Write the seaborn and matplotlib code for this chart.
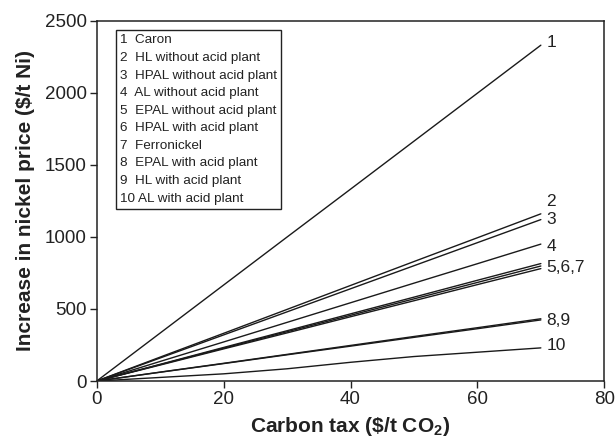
import matplotlib
matplotlib.use("Agg")
import matplotlib.pyplot as plt
import numpy as np
import pandas as pd
import seaborn as sns

# Carbon tax levels ($/t CO2)
carbon_tax = [0, 10, 20, 30, 40, 50, 60, 70]

# Increase in nickel price ($/t Ni) for each process route
caron = [0, 333, 666, 999, 1331, 1664, 1997, 2330]
hl_no_acid = [0, 166, 331, 497, 663, 829, 994, 1160]
hpal_no_acid = [0, 160, 320, 480, 640, 800, 960, 1120]
al_no_acid = [0, 136, 271, 407, 543, 679, 814, 950]
epal_no_acid = [0, 116, 233, 349, 466, 582, 699, 815]
hpal_acid = [0, 114, 228, 342, 456, 570, 684, 798]
ferronickel = [0, 111, 223, 334, 446, 557, 669, 780]
epal_acid = [0, 62, 123, 185, 247, 309, 370, 432]
hl_acid = [0, 61, 121, 182, 242, 303, 363, 424]
al_acid = [0, 25, 50, 85, 130, 170, 200, 230]

legend_names = [
    "Caron", "HL without acid plant", "HPAL without acid plant",
    "AL without acid plant", "EPAL without acid plant", "HPAL with acid plant",
    "Ferronickel", "EPAL with acid plant", "HL with acid plant", "AL with acid plant",
]
series = [caron, hl_no_acid, hpal_no_acid, al_no_acid, epal_no_acid,
          hpal_acid, ferronickel, epal_acid, hl_acid, al_acid]

# End-of-line tags and the y value they sit at
end_tags = ["1", "2", "3", "4", "5,6,7", "8,9", "10"]
end_tag_y = [2350, 1245, 1120, 930, 790, 420, 245]

rows = []
for i, vals in enumerate(series):
    for x, y in zip(carbon_tax, vals):
        rows.append({"tax": x, "price": y, "route": str(i + 1)})
df = pd.DataFrame(rows)

sns.set_style("ticks")
plt.rcParams["font.family"] = ["Liberation Sans", "DejaVu Sans"]
plt.rcParams["mathtext.fontset"] = "custom"
plt.rcParams["mathtext.bf"] = "Liberation Sans:bold"
plt.rcParams["mathtext.rm"] = "Liberation Sans"

fig = plt.figure(figsize=(6.16, 4.4), dpi=100)
ax = fig.add_axes([0.157, 0.134, 0.824, 0.819])

sns.lineplot(data=df, x="tax", y="price", hue="route",
             palette=["#1a1a1a"] * len(series), linewidth=1.0,
             legend=False, ax=ax, estimator=None)

ax.set_xlim(0, 80)
ax.set_ylim(0, 2500)
ax.set_xticks([0, 20, 40, 60, 80])
ax.set_yticks([0, 500, 1000, 1500, 2000, 2500])
ax.tick_params(direction="out", length=5, width=1, labelsize=13.5,
               colors="#222222", pad=2)
for sp in ax.spines.values():
    sp.set_visible(True)
    sp.set_linewidth(1.1)
    sp.set_color("#222222")

ax.set_xlabel(r"Carbon tax (\$/t CO$_\mathbf{2}$)", fontsize=15,
              fontweight="bold", color="#222222", labelpad=5)
ax.set_ylabel(r"Increase in nickel price (\$/t Ni)", fontsize=15,
              fontweight="bold", color="#222222", labelpad=7)

for tag, y in zip(end_tags, end_tag_y):
    ax.text(70.9, y, tag, fontsize=12.5, va="center", ha="left",
            color="#222222")

legend_text = "\n".join(
    f"{i + 1}  {name}" if i < 9 else f"{i + 1} {name}"
    for i, name in enumerate(legend_names)
)
ax.text(3.6, 2405, legend_text, fontsize=9.7, va="top", ha="left",
        linespacing=1.62, color="#222222",
        bbox=dict(boxstyle="square,pad=0.3", facecolor="white",
                  edgecolor="#222222", linewidth=1.0))

fig.savefig("out.png", dpi=100)
